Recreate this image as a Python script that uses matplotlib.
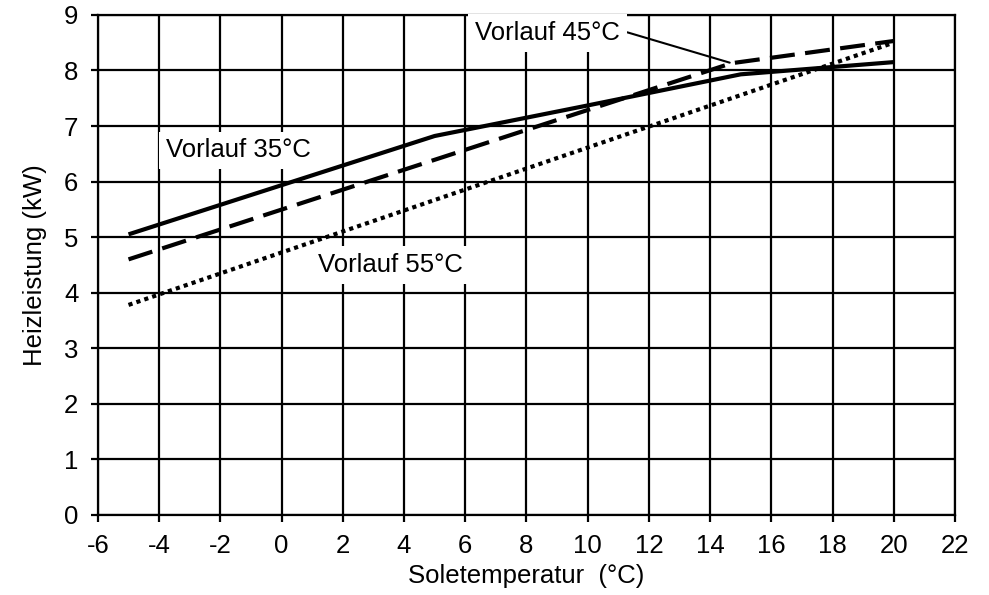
import matplotlib
matplotlib.use("Agg")
import matplotlib.pyplot as plt

plt.rcParams['font.family'] = ['Liberation Sans', 'DejaVu Sans']
plt.rcParams['axes.unicode_minus'] = False

# Soletemperatur (°C) / Heizleistung (kW)
x_35 = [-5, 5, 10, 15, 20]
y_35 = [5.05, 6.82, 7.37, 7.93, 8.15]

x_45 = [-5, 14.7, 20]
y_45 = [4.6, 8.13, 8.53]

x_55 = [-5, 20]
y_55 = [3.78, 8.5]

xticks = list(range(-6, 23, 2))
yticks = list(range(0, 10))

fs = 18.5

fig = plt.figure(figsize=(9.89, 5.95), dpi=100)
ax = fig.add_axes([0.099, 0.1345, 0.8666, 0.8405])

ax.plot(x_35, y_35, color='black', lw=3, solid_capstyle='butt', zorder=4)
ax.plot(x_45, y_45, color='black', lw=3, dashes=(6, 2.5), zorder=4)
ax.plot(x_55, y_55, color='black', lw=3, dashes=(1, 1), zorder=4)

ax.set_xlim(-6, 22)
ax.set_ylim(0, 9)
ax.set_xticks(xticks)
ax.set_yticks(yticks)
ax.grid(True, color='black', lw=1.6)
ax.set_axisbelow(True)
for s in ax.spines.values():
    s.set_linewidth(1.6)
    s.set_zorder(1)
ax.tick_params(direction='out', length=5, width=1.6, labelsize=fs)
ax.tick_params(axis='x', pad=9)
ax.tick_params(axis='y', pad=9)

ax.set_xlabel('Soletemperatur  (°C)', fontsize=fs, labelpad=4)
ax.set_ylabel('Heizleistung (kW)', fontsize=fs, labelpad=12)

box = dict(facecolor='white', edgecolor='none', pad=5)
ax.text(-1.4, 6.56, 'Vorlauf 35°C', fontsize=fs, ha='center', va='center',
        bbox=box, zorder=5)
ax.text(3.56, 4.5, 'Vorlauf 55°C', fontsize=fs, ha='center', va='center',
        bbox=box, zorder=5)
ax.annotate('Vorlauf 45°C', xy=(14.64, 8.14), xytext=(8.7, 8.68),
            fontsize=fs, ha='center', va='center', bbox=box, zorder=5,
            annotation_clip=False,
            arrowprops=dict(arrowstyle='-', color='black', lw=1.5,
                            shrinkA=0, shrinkB=0, relpos=(1.0, 0.6)))

fig.savefig('out.png', dpi=100)
